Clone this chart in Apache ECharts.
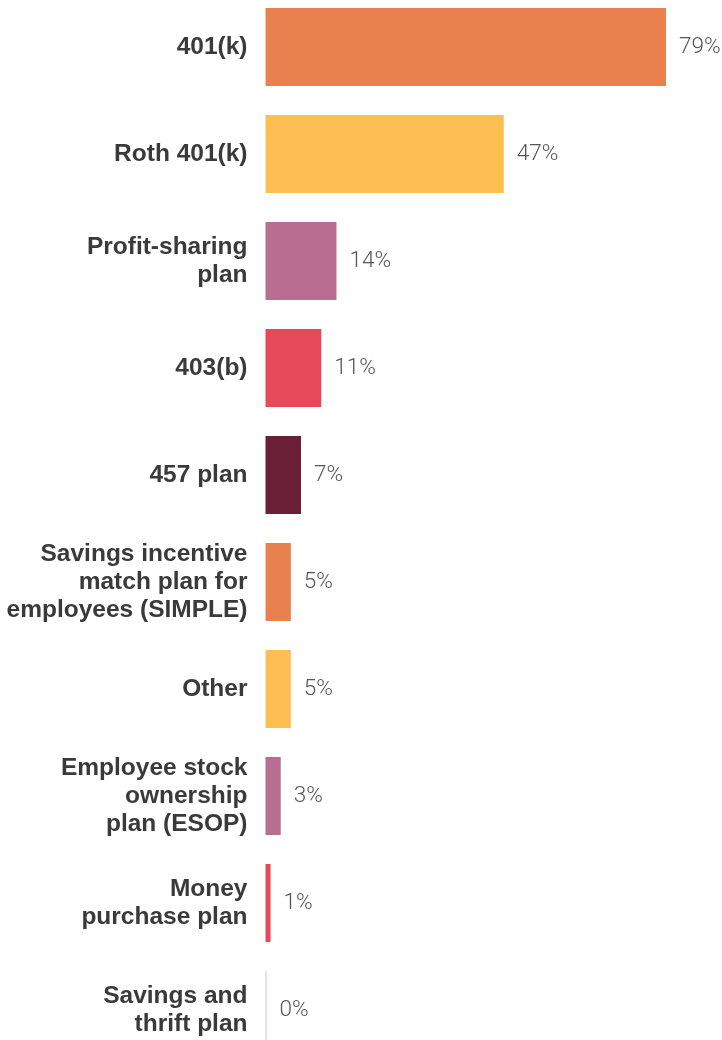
<!DOCTYPE html>
<html>
<head>
<meta charset="utf-8">
<script src="https://cdn.jsdelivr.net/npm/echarts@6/dist/echarts.min.js"></script>
<style>
html,body{margin:0;padding:0;background:#fff;}
#chart{width:722px;height:1040px;}
</style>
</head>
<body>
<div id="chart"></div>
<script>
var categories = [
  "401(k)",
  "Roth 401(k)",
  "Profit-sharing\nplan",
  "403(b)",
  "457 plan",
  "Savings incentive\nmatch plan for\nemployees (SIMPLE)",
  "Other",
  "Employee stock\nownership\nplan (ESOP)",
  "Money\npurchase plan",
  "Savings and\nthrift plan"
];
var values = [79, 47, 14, 11, 7, 5, 5, 3, 1, 0];
var colors = ["#E9814F", "#FDBF52", "#B96D91", "#E5495A", "#6B1F37",
              "#E9814F", "#FDBF52", "#B96D91", "#E5495A", "#D5C3CB"];

var chart = echarts.init(document.getElementById('chart'));
chart.setOption({
  animation: false,
  grid: {
    left: 265.5, width: 400.5, top: -6.5, height: 1070,
    containLabel: false, outerBoundsMode: 'none'
  },
  xAxis: {
    type: 'value', min: 0, max: 79, show: false
  },
  yAxis: {
    type: 'category',
    inverse: true,
    data: categories,
    axisLine: { show: false },
    axisTick: { show: false },
    splitLine: { show: false },
    axisLabel: {
      margin: 18,
      color: '#3a3a3a',
      fontFamily: 'Liberation Sans, Arial, sans-serif',
      fontWeight: 'bold',
      fontSize: 24.5,
      lineHeight: 28,
      padding: [5, 0, 0, 0],
      align: 'right'
    }
  },
  series: [{
    type: 'bar',
    data: values.map(function (v, i) {
      return { value: v, itemStyle: { color: colors[i] } };
    }),
    barWidth: 78,
    barMinHeight: 1,
    label: {
      show: true,
      position: 'right',
      distance: 13,
      formatter: '{c}%',
      color: '#555',
      fontFamily: 'Roboto, sans-serif',
      fontWeight: 300,
      fontSize: 22.5,
      padding: [4, 0, 0, 0]
    }
  }]
});
</script>
</body>
</html>
